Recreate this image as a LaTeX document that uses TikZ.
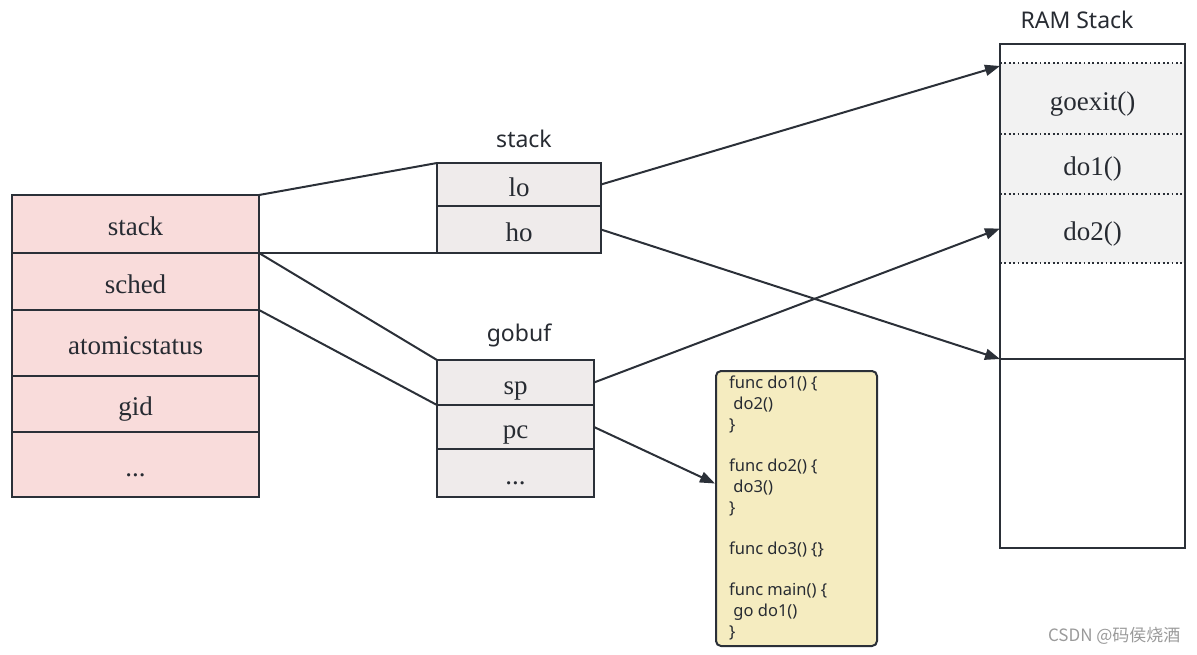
\documentclass[tikz,border=0pt]{standalone}
\usepackage{fontspec}
\setmainfont{Liberation Serif}
\newfontfamily\labelfont{Noto Sans}
\newfontfamily\cjk{Noto Sans CJK SC}
\usetikzlibrary{arrows.meta,calc}
\definecolor{ln}{HTML}{2B3038}
\definecolor{pinkfill}{HTML}{F9DCDB}
\definecolor{grayfill}{HTML}{EFEBEB}
\definecolor{ramfill}{HTML}{F2F2F2}
\definecolor{codefill}{HTML}{F5ECC0}
\definecolor{wm}{HTML}{9A9A9A}
\begin{document}
\begin{tikzpicture}[x=1pt,y=-1pt,
  cell/.style={draw=ln,line width=2pt,inner sep=0pt,outer sep=0pt,font=\fontsize{27}{30}\selectfont,text=ln!90!black,text height=28pt,text depth=5pt},
  gcell/.style={cell,fill=pinkfill,minimum width=247pt},
  scell/.style={cell,fill=grayfill},
  frame/.style={inner sep=0pt,outer sep=0pt,fill=ramfill,minimum width=185pt,font=\fontsize{27}{30}\selectfont,text=ln!90!black,text height=28pt,text depth=5pt},
  title/.style={font=\labelfont\fontsize{23}{26}\selectfont,text=ln!90!black},
  link/.style={draw=ln,line width=2pt},
  arr/.style={link,-{Triangle[length=15pt,width=11pt]}},
  dotline/.style={draw=ln,line width=1.8pt,dash pattern=on 1.8pt off 2.6pt}
]
\useasboundingbox (0,0) rectangle (1197,654);
% left struct
\node[gcell,minimum height=58pt] (gstack) at (135.5,224) {stack};
\node[gcell,minimum height=57pt] (gsched) at (135.5,281.5) {sched};
\node[gcell,minimum height=66pt] (gatomic) at (135.5,343) {atomicstatus};
\node[gcell,minimum height=56pt] (ggid) at (135.5,404) {gid};
\node[gcell,minimum height=65pt] (gmore) at (135.5,464.5) {...};
% stack struct
\node[title] (stacklbl) at (524,139) {stack};
\node[scell,minimum width=164pt,minimum height=43pt] (lo) at (519,184.5) {lo};
\node[scell,minimum width=164pt,minimum height=47pt] (ho) at (519,229.5) {ho};
% gobuf struct
\node[title] (gobuflbl) at (519,335) {gobuf};
\node[scell,minimum width=157pt,minimum height=45pt] (sp) at (515.5,382.5) {sp};
\node[scell,minimum width=157pt,minimum height=44pt] (pc) at (515.5,427) {pc};
\node[scell,minimum width=157pt,minimum height=48pt] (bmore) at (515.5,473) {...};
% RAM stack
\node[title] (ramlbl) at (1077,20) {RAM Stack};
\node[frame,minimum height=71pt] (goexit) at (1092.5,98.5) {goexit()};
\node[frame,minimum height=60pt] (do1) at (1092.5,164) {do1()};
\node[frame,minimum height=69pt] (do2) at (1092.5,228.5) {do2()};
\node[inner sep=0pt,outer sep=0pt,minimum width=185pt,minimum height=96pt] (free) at (1092.5,311) {};
\node[inner sep=0pt,outer sep=0pt,minimum width=185pt,minimum height=189pt] (low) at (1092.5,453.5) {};
\draw[dotline] (goexit.north west) -- (goexit.north east);
\draw[dotline] (do1.north west) -- (do1.north east);
\draw[dotline] (do2.north west) -- (do2.north east);
\draw[dotline] (do2.south west) -- (do2.south east);
\draw[dotline] (goexit.north west) -- (do2.south west);
\draw[dotline] (goexit.north east) -- (do2.south east);
\node[draw=ln,line width=2pt,inner sep=0pt,outer sep=0pt,minimum width=185pt,minimum height=504pt] (ram) at (1092.5,296) {};
\draw[link] (low.north west) -- (low.north east);
\coordinate (loend) at ($(goexit.north west)+(0,3)$);
% code box
\node[draw=ln,line width=2pt,fill=codefill,rounded corners=5pt,minimum width=161pt,minimum height=275pt,inner sep=0pt] (code) at (796.5,508.5) {};
\node[anchor=north west,inner sep=0pt,align=left,font=\labelfont\fontsize{16.5}{20.7}\selectfont,text=ln!90!black] (codetxt) at (729,376) {func do1() \{\\\ do2()\\\}\\[20.7pt]func do2() \{\\\ do3()\\\}\\[20.7pt]func do3() \{\}\\[20.7pt]func main() \{\\\ go do1()\\\}};
\coordinate (pcend) at ($(code.west)+(0,-25)$);
% connectors
\draw[link] (gstack.north east) -- (lo.north west);
\draw[link] (gstack.south east) -- (ho.south west);
\draw[link] (gsched.north east) -- (sp.north west);
\draw[link] (gsched.south east) -- (pc.north west);
\draw[arr] (lo.east) -- (loend);
\draw[arr] (ho.east) -- (low.north west);
\draw[arr] (sp.east) -- (do2.west);
\draw[arr] (pc.east) -- (pcend);
% watermark
\node[font=\cjk\fontsize{17}{20}\selectfont,text=wm,anchor=east] (wmark) at (1184,636) {CSDN @码侯烧酒};
\end{tikzpicture}
\end{document}
